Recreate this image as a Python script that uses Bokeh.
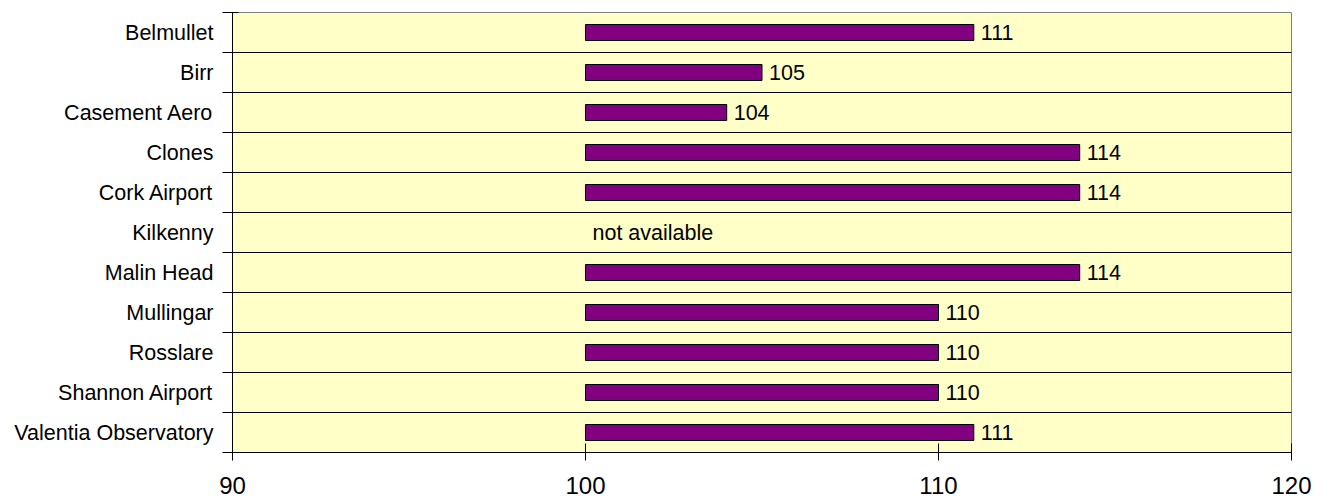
from bokeh.plotting import figure
from bokeh.models import Range1d, FixedTicker, ColumnDataSource
from bokeh.core.properties import value
from bokeh.embed import file_html
from bokeh.resources import INLINE

stations = ["Belmullet", "Birr", "Casement Aero", "Clones", "Cork Airport", "Kilkenny",
            "Malin Head", "Mullingar", "Rosslare", "Shannon Airport", "Valentia Observatory"]
values = [111, 105, 104, 114, 114, None, 114, 110, 110, 110, 111]
missing_text = "not available"
x_ticks = [90, 100, 110, 120]
baseline = 100

FONT = "Liberation Sans"

pos = list(range(len(stations)))
bar_y = [i for i, v in zip(pos, values) if v is not None]
bar_v = [v for v in values if v is not None]
miss_y = [i for i, v in zip(pos, values) if v is None]

p = figure(width=1329, height=503, output_backend="svg", toolbar_location=None,
           x_range=Range1d(90, 120), y_range=Range1d(len(stations) - 0.5, -0.5),
           min_border_left=232, min_border_right=38, min_border_top=12, min_border_bottom=51)

p.border_fill_color = "white"
p.background_fill_color = "#FFFFC8"
p.outline_line_color = "#808080"

src = ColumnDataSource(dict(y=bar_y, v=bar_v, lbl=[str(v) for v in bar_v]))
p.hbar(y="y", left=baseline, right="v", height=0.4, source=src,
       fill_color="#800080", line_color="black", line_width=1)
p.text(x="v", y="y", text="lbl", source=src, x_offset=7, text_baseline="middle",
       text_font=value(FONT), text_font_size="21.5px", text_color="black")
p.text(x=[baseline] * len(miss_y), y=miss_y, text=[missing_text] * len(miss_y),
       x_offset=7, text_baseline="middle",
       text_font=value(FONT), text_font_size="21.5px", text_color="black")

# y axis: labels at centres, ticks at boundaries
boundaries = [i - 0.5 for i in range(len(stations) + 1)]
p.yaxis.ticker = FixedTicker(ticks=pos, minor_ticks=boundaries)
p.yaxis.major_label_overrides = {i: s for i, s in zip(pos, stations)}
p.yaxis.major_tick_line_color = None
p.yaxis.major_tick_out = 0
p.yaxis.major_tick_in = 0
p.yaxis.minor_tick_line_color = "black"
p.yaxis.minor_tick_in = 6
p.yaxis.minor_tick_out = 10
p.yaxis.major_label_standoff = 9
p.yaxis.major_label_text_font = FONT
p.yaxis.major_label_text_font_size = "21.5px"
p.yaxis.major_label_text_color = "black"
p.yaxis.axis_line_color = "black"

p.ygrid.ticker = FixedTicker(ticks=pos, minor_ticks=boundaries)
p.ygrid.grid_line_color = None
p.ygrid.minor_grid_line_color = "black"
p.ygrid.minor_grid_line_width = 1

p.xgrid.grid_line_color = None
p.xaxis.ticker = FixedTicker(ticks=x_ticks, minor_ticks=[])
p.xaxis.major_tick_in = 9
p.xaxis.major_tick_out = 8
p.xaxis.major_tick_line_color = "black"
p.xaxis.minor_tick_line_color = None
p.xaxis.axis_line_color = "black"
p.xaxis.major_label_standoff = 16
p.xaxis.major_label_text_font = FONT
p.xaxis.major_label_text_font_size = "24px"
p.xaxis.major_label_text_color = "black"

open("out.html", "w").write(file_html(p, INLINE))
